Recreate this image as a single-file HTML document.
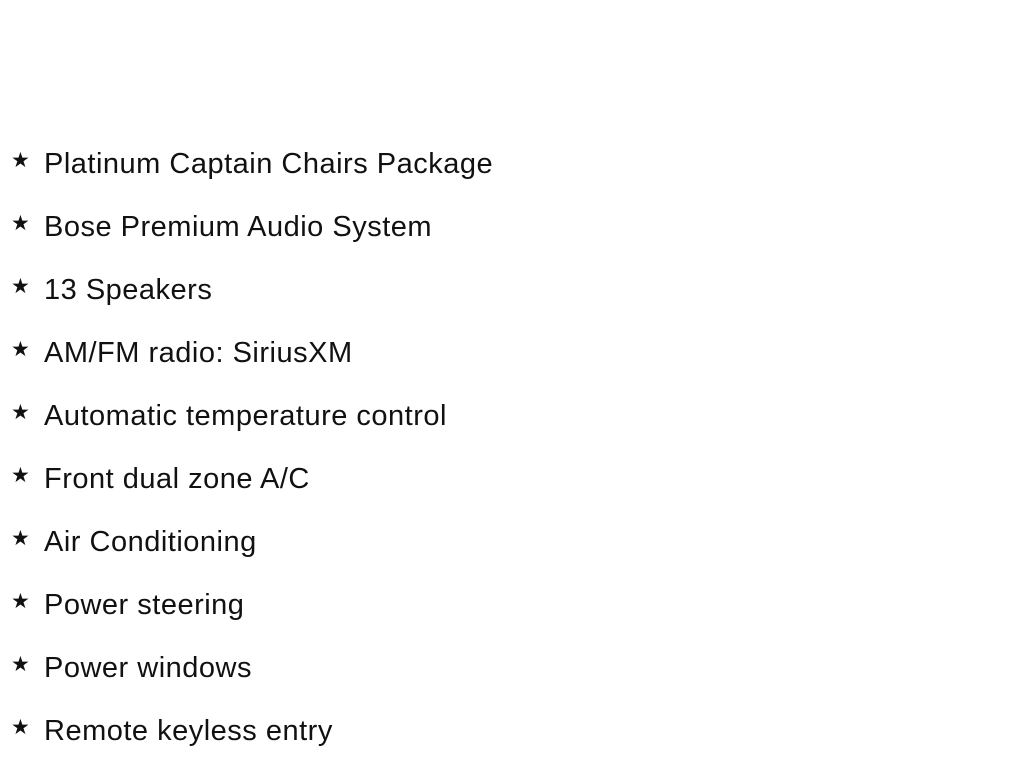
<!DOCTYPE html>
<html><head><style>
body{margin:0;width:1024px;height:768px;background:#fff;position:relative;font-family:"Liberation Sans",sans-serif;color:#111;}
.r{position:absolute;left:0;height:40px;line-height:40px;white-space:nowrap;}
.s{position:absolute;left:11px;font-size:21px;top:-3px;}
.t{position:absolute;left:44px;font-size:29px;letter-spacing:0.5px;}
</style></head><body>
<div class="r" style="top:144px"><span class="s">★</span><span class="t">Platinum Captain Chairs Package</span></div>
<div class="r" style="top:207px"><span class="s">★</span><span class="t">Bose Premium Audio System</span></div>
<div class="r" style="top:270px"><span class="s">★</span><span class="t">13 Speakers</span></div>
<div class="r" style="top:333px"><span class="s">★</span><span class="t">AM/FM radio: SiriusXM</span></div>
<div class="r" style="top:396px"><span class="s">★</span><span class="t">Automatic temperature control</span></div>
<div class="r" style="top:459px"><span class="s">★</span><span class="t">Front dual zone A/C</span></div>
<div class="r" style="top:522px"><span class="s">★</span><span class="t">Air Conditioning</span></div>
<div class="r" style="top:585px"><span class="s">★</span><span class="t">Power steering</span></div>
<div class="r" style="top:648px"><span class="s">★</span><span class="t">Power windows</span></div>
<div class="r" style="top:711px"><span class="s">★</span><span class="t">Remote keyless entry</span></div>
</body></html>
